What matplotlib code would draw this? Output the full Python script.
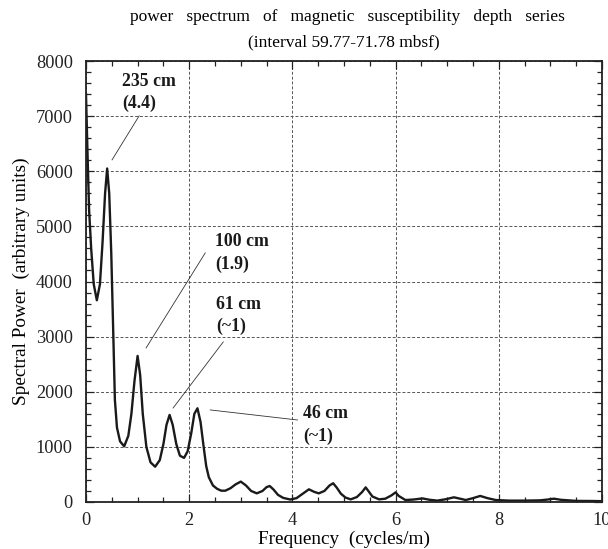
import matplotlib
matplotlib.use("Agg")
import matplotlib.pyplot as plt
from matplotlib.ticker import MultipleLocator

# --- data ---
freq = [0.00, 0.03, 0.06, 0.10, 0.15, 0.21, 0.27, 0.32, 0.37, 0.41, 0.45, 0.49, 0.53,
        0.56, 0.60, 0.66, 0.74, 0.82, 0.88, 0.94, 1.00, 1.05, 1.10, 1.17, 1.25, 1.34,
        1.43, 1.50, 1.56, 1.62, 1.68, 1.75, 1.82, 1.90, 1.97, 2.04, 2.10, 2.16, 2.22,
        2.28, 2.33, 2.38, 2.46, 2.54, 2.62, 2.70, 2.80, 2.90, 3.00, 3.10, 3.20, 3.31,
        3.42, 3.50, 3.56, 3.63, 3.72, 3.82, 3.96, 4.08, 4.20, 4.32, 4.42, 4.51, 4.62,
        4.72, 4.79, 4.86, 4.94, 5.03, 5.13, 5.25, 5.35, 5.42, 5.48, 5.55, 5.68, 5.80,
        5.92, 6.00, 6.06, 6.19, 6.35, 6.52, 6.66, 6.81, 6.97, 7.13, 7.25, 7.36, 7.50,
        7.64, 7.78, 7.94, 8.20, 8.50, 8.80, 8.95, 9.07, 9.20, 9.50, 9.80, 10.00]
power = [7400, 6300, 5300, 4600, 3950, 3660, 3950, 4700, 5600, 6050, 5600, 4500, 3000,
         1850, 1350, 1100, 1010, 1200, 1600, 2200, 2650, 2300, 1600, 1000, 720, 640,
         760, 1050, 1400, 1580, 1400, 1050, 840, 800, 920, 1250, 1600, 1700, 1450,
         1000, 650, 450, 300, 240, 205, 205, 250, 320, 370, 300, 200, 157,
         200, 270, 290, 230, 130, 75, 45, 70, 150, 230, 185, 157, 200,
         300, 340, 260, 150, 80, 48, 90, 180, 265, 190, 100, 48, 60,
         120, 175, 110, 36, 45, 65, 40, 25, 50, 85, 60, 36, 70,
         110, 70, 36, 25, 25, 30, 45, 60, 40, 20, 18, 15]

title_lines = ["power   spectrum   of   magnetic   susceptibility   depth   series",
               "(interval 59.77-71.78 mbsf)"]
x_label = "Frequency  (cycles/m)"
y_label = "Spectral Power  (arbitrary units)"
peak_labels = ["235 cm\n(4.4)", "100 cm\n(1.9)", "61 cm\n(~1)", "46 cm\n(~1)"]

plt.rcParams['font.family'] = ['Liberation Serif', 'DejaVu Serif']

fig = plt.figure(figsize=(6.08, 5.49), dpi=100)
ax = fig.add_axes([86/608, 1-502/549, (602-86)/608, (502-61)/549])

ax.plot(freq, power, color='#1a1a1a', lw=1.7, solid_joinstyle='round')

ax.set_xlim(0, 10)
ax.set_ylim(0, 8000)
ax.xaxis.set_major_locator(MultipleLocator(2))
ax.xaxis.set_minor_locator(MultipleLocator(0.5))
ax.yaxis.set_major_locator(MultipleLocator(1000))
ax.yaxis.set_minor_locator(MultipleLocator(200))
ax.tick_params(which='both', direction='in', top=True, right=True, labelsize=13.2,
               colors='#222222', width=0.9)
ax.tick_params(which='major', length=6)
ax.tick_params(axis='y', which='major', pad=9.5)
ax.tick_params(axis='x', which='major', pad=7.5)
ax.tick_params(which='minor', length=3.5)
ax.grid(True, which='major', linestyle=(0, (3, 2)), color='#555555', lw=0.7)
for s in ax.spines.values():
    s.set_linewidth(1.3)
    s.set_color('#222222')

ax.set_xlabel(x_label, fontsize=13.9, labelpad=1)
ax.set_ylabel(y_label, fontsize=13.9, labelpad=4)

fig.text(347/608, 1-17/549, title_lines[0], ha='center', va='center', fontsize=12.5)
fig.text(344/608, 1-42/549, title_lines[1], ha='center', va='center', fontsize=12.5)

txt_pos = [(0.70, 7790), (2.505, 4880), (2.524, 3740), (4.21, 1760)]
lines = [((1.03, 7005), (0.505, 6207)),
         ((2.311, 4519), (1.165, 2795)),
         ((2.660, 2904), (1.689, 1706)),
         ((2.408, 1670), (4.097, 1488))]
for lab, (tx, ty), ((x0, y0), (x1, y1)) in zip(peak_labels, txt_pos, lines):
    ax.text(tx, ty, lab, ha='left', va='top', fontsize=12.8, fontweight='bold',
            linespacing=1.4, color='#1a1a1a')
    ax.plot([x0, x1], [y0, y1], color='#333333', lw=0.6)

fig.savefig("out.png", dpi=100)
